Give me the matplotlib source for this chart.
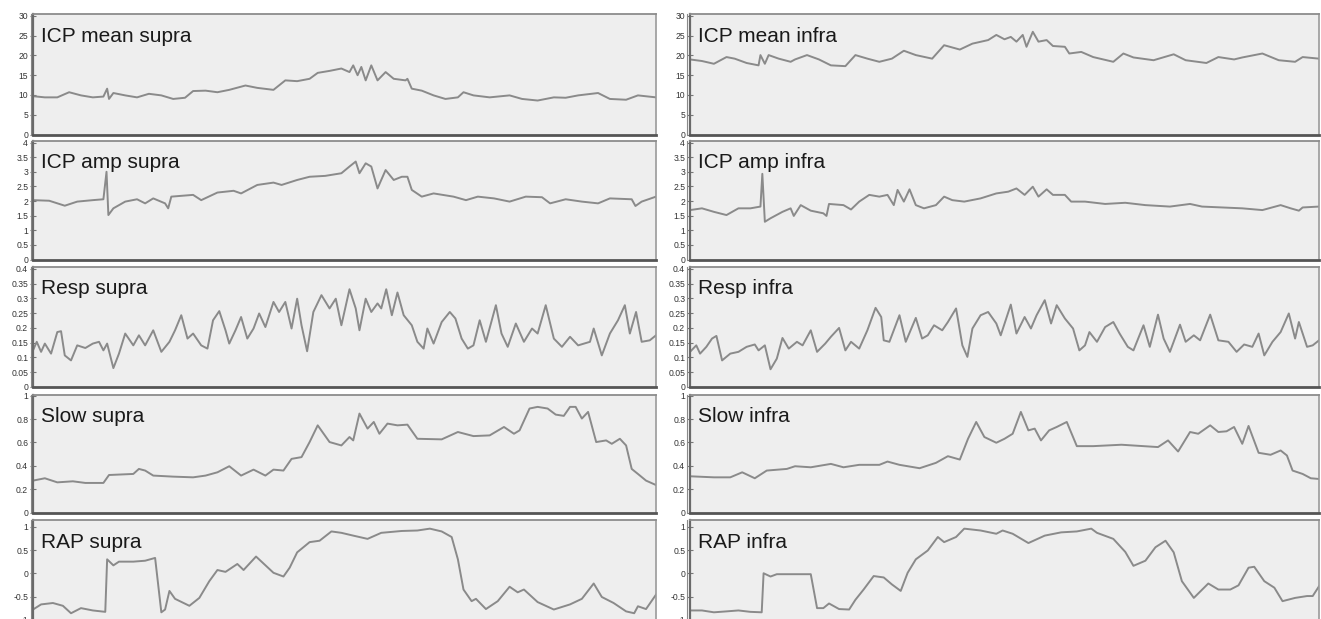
import numpy as np
import matplotlib
matplotlib.use('Agg')
import matplotlib.pyplot as plt
from matplotlib.ticker import FuncFormatter

plt.rcParams['font.family'] = ['Liberation Sans', 'DejaVu Sans']

# time axis is % of the recording (no units shown on the chart)

# ---- supra (left column) ----
t_mean_supra = [0, 1.9, 3.9, 5.8, 7.7, 9.6, 11.3, 11.9, 12.2, 12.9, 14.8, 16.7, 18.6, 20.6, 22.5, 24.4, 25.7,
                27.7, 29.6, 31.5, 34.1, 36.0, 38.6, 40.5, 42.4, 44.4, 45.7, 47.6, 49.5, 50.8, 51.4, 52.1, 52.7,
                53.4, 54.3, 55.3, 56.6, 57.9, 59.8, 60.1, 60.8, 62.4, 64.3, 66.2, 68.2, 69.1, 70.7, 73.3, 76.5,
                78.5, 81.0, 83.6, 85.5, 87.5, 90.7, 92.6, 95.2, 97.1, 100]
icp_mean_supra = [9.7, 9.4, 9.4, 10.7, 9.9, 9.4, 9.6, 11.6, 9.0, 10.5, 9.9, 9.4, 10.3, 9.9, 9.0, 9.3, 11.0,
                  11.1, 10.7, 11.3, 12.4, 11.8, 11.3, 13.7, 13.5, 14.1, 15.6, 16.1, 16.7, 15.8, 17.5, 15.0, 17.1,
                  13.7, 17.5, 13.7, 15.8, 14.1, 13.7, 14.1, 11.6, 11.1, 9.9, 9.0, 9.4, 10.7, 9.9, 9.4, 9.9,
                  9.0, 8.6, 9.4, 9.3, 9.9, 10.5, 9.0, 8.8, 9.9, 9.4]

t_amp_supra = [0, 2.6, 5.1, 7.1, 9.6, 11.3, 11.8, 12.1, 12.9, 14.8, 16.7, 18.0, 19.3, 21.2, 21.7, 22.2, 25.7,
               27.0, 29.6, 32.2, 33.4, 36.0, 38.6, 39.9, 42.4, 44.4, 46.9, 49.5, 50.8, 51.8, 52.4, 53.4, 54.3,
               55.3, 56.6, 57.9, 59.2, 60.1, 60.8, 62.4, 64.3, 67.5, 69.5, 71.4, 74.0, 76.5, 79.1, 81.7, 83.0,
               85.5, 88.1, 90.7, 92.6, 96.1, 96.7, 97.7, 100]
icp_amp_supra = [2.03, 2.01, 1.84, 1.98, 2.03, 2.06, 3.0, 1.52, 1.75, 1.98, 2.06, 1.92, 2.09, 1.92, 1.75, 2.15, 2.21,
                 2.03, 2.29, 2.35, 2.26, 2.55, 2.63, 2.55, 2.72, 2.83, 2.86, 2.95, 3.18, 3.35, 2.95, 3.29, 3.18,
                 2.43, 3.06, 2.72, 2.83, 2.83, 2.38, 2.15, 2.26, 2.15, 2.03, 2.15, 2.09, 1.98, 2.15, 2.13, 1.92,
                 2.06, 1.98, 1.92, 2.09, 2.06, 1.83, 1.98, 2.15]

t_resp_supra = [0, 0.6, 1.3, 1.9, 2.9, 3.9, 4.5, 5.1, 6.1, 7.1, 8.4, 9.6, 10.6, 11.3, 11.9, 12.9, 13.8, 14.8,
                16.1, 17.0, 18.0, 19.3, 20.6, 21.9, 22.8, 23.8, 24.8, 25.7, 27.0, 28.0, 28.9, 29.9, 30.9, 31.5,
                32.5, 33.4, 34.4, 35.4, 36.3, 37.3, 38.6, 39.5, 40.5, 41.5, 42.4, 43.1, 44.0, 45.0, 46.3, 47.6,
                48.6, 49.5, 50.8, 51.8, 52.4, 53.4, 54.3, 55.3, 55.9, 56.7, 57.6, 58.5, 59.5, 60.8, 61.7, 62.7,
                63.3, 64.3, 65.6, 66.9, 67.8, 68.8, 69.8, 70.7, 71.7, 72.7, 74.3, 75.2, 76.2, 77.5, 78.8, 80.1,
                81.0, 82.3, 83.6, 84.9, 86.2, 87.5, 89.4, 90.0, 91.3, 92.6, 93.9, 95.0, 95.8, 96.8, 97.7, 99.0, 100]
resp_supra = [0.124, 0.153, 0.119, 0.147, 0.113, 0.186, 0.189, 0.107, 0.090, 0.141, 0.132, 0.147, 0.153, 0.124,
              0.147, 0.064, 0.113, 0.181, 0.141, 0.175, 0.141, 0.192, 0.119, 0.153, 0.192, 0.243, 0.164, 0.181,
              0.141, 0.130, 0.226, 0.257, 0.192, 0.147, 0.192, 0.237, 0.164, 0.198, 0.249, 0.203, 0.288, 0.254,
              0.288, 0.198, 0.299, 0.209, 0.121, 0.254, 0.311, 0.266, 0.299, 0.209, 0.331, 0.266, 0.192, 0.299,
              0.254, 0.283, 0.266, 0.331, 0.243, 0.320, 0.243, 0.209, 0.153, 0.130, 0.198, 0.147, 0.220, 0.254,
              0.232, 0.164, 0.130, 0.141, 0.226, 0.153, 0.277, 0.181, 0.136, 0.215, 0.153, 0.198, 0.181, 0.277,
              0.164, 0.136, 0.170, 0.141, 0.153, 0.198, 0.107, 0.181, 0.226, 0.277, 0.181, 0.254, 0.153, 0.158, 0.175]

t_slow_supra = [0, 1.9, 3.9, 6.4, 8.4, 11.3, 12.2, 16.1, 17.0, 18.0, 19.3, 22.5, 25.7, 27.7, 29.6, 31.5, 33.4,
                35.4, 37.3, 38.6, 40.2, 41.5, 43.1, 44.4, 45.7, 47.6, 49.5, 50.8, 51.4, 52.4, 53.7, 54.7, 55.6,
                56.9, 58.5, 60.1, 61.7, 65.6, 68.2, 70.7, 73.3, 75.6, 77.2, 78.1, 79.7, 81.0, 82.6, 83.9, 85.2,
                86.2, 87.1, 88.1, 89.1, 90.4, 92.0, 92.9, 94.2, 95.2, 96.1, 97.1, 98.4, 100]
slow_supra = [0.273, 0.293, 0.258, 0.267, 0.253, 0.253, 0.321, 0.330, 0.373, 0.359, 0.316, 0.307, 0.301, 0.316,
              0.344, 0.396, 0.316, 0.367, 0.316, 0.367, 0.359, 0.459, 0.474, 0.603, 0.746, 0.603, 0.574, 0.646,
              0.617, 0.847, 0.718, 0.775, 0.674, 0.761, 0.746, 0.752, 0.631, 0.626, 0.689, 0.654, 0.660, 0.732,
              0.674, 0.703, 0.890, 0.904, 0.890, 0.838, 0.827, 0.904, 0.904, 0.804, 0.861, 0.603, 0.617, 0.588,
              0.631, 0.574, 0.373, 0.330, 0.273, 0.235]

t_rap_supra = [0, 1.3, 3.2, 4.8, 6.1, 7.7, 9.6, 11.6, 11.9, 12.9, 13.8, 16.1, 18.0, 19.6, 20.6, 21.2, 21.9, 22.8,
               25.1, 26.7, 28.3, 29.6, 30.9, 32.8, 33.8, 35.8, 38.6, 40.2, 41.2, 42.4, 44.4, 46.0, 47.9, 49.5,
               51.4, 53.7, 55.9, 59.2, 61.7, 63.7, 65.6, 67.2, 68.2, 69.1, 70.4, 71.1, 72.7, 74.6, 76.5, 77.8,
               78.8, 81.0, 83.6, 86.2, 88.1, 90.0, 91.3, 93.2, 95.2, 96.5, 97.1, 98.4, 100]
rap_supra = [-0.78, -0.67, -0.64, -0.70, -0.86, -0.75, -0.80, -0.83, 0.30, 0.17, 0.25, 0.25, 0.27, 0.33, -0.84,
             -0.78, -0.38, -0.55, -0.70, -0.53, -0.17, 0.07, 0.03, 0.20, 0.07, 0.36, 0.01, -0.07, 0.12, 0.45,
             0.67, 0.70, 0.90, 0.87, 0.81, 0.74, 0.87, 0.91, 0.92, 0.96, 0.90, 0.78, 0.30, -0.35, -0.60, -0.55,
             -0.77, -0.60, -0.29, -0.41, -0.35, -0.62, -0.78, -0.67, -0.55, -0.22, -0.51, -0.64, -0.82, -0.86,
             -0.71, -0.77, -0.46]

# ---- infra (right column) ----
t_mean_infra = [0, 1.9, 3.8, 5.8, 7.1, 9.0, 10.9, 11.2, 11.9, 12.5, 14.1, 16.0, 16.7, 18.6, 20.5, 22.4, 24.7,
                26.3, 28.2, 30.1, 32.1, 34.0, 35.9, 38.5, 40.4, 42.9, 44.9, 47.4, 48.7, 50.0, 51.0, 51.9, 52.9,
                53.5, 54.5, 55.4, 56.7, 57.7, 59.6, 60.3, 62.2, 64.1, 67.3, 68.9, 70.5, 73.7, 76.9, 78.8, 82.1,
                84.0, 86.5, 87.8, 91.0, 93.6, 96.2, 97.4, 100]
icp_mean_infra = [19.0, 18.6, 17.9, 19.6, 19.2, 18.1, 17.5, 20.1, 17.9, 20.1, 19.2, 18.4, 19.0, 20.1, 19.0, 17.5,
                  17.3, 20.1, 19.2, 18.4, 19.2, 21.2, 20.1, 19.2, 22.6, 21.5, 23.0, 23.9, 25.2, 24.1, 24.7, 23.5,
                  25.2, 22.2, 26.0, 23.5, 23.9, 22.4, 22.2, 20.5, 20.9, 19.6, 18.4, 20.5, 19.5, 18.8, 20.3, 18.8,
                  18.1, 19.6, 19.0, 19.5, 20.5, 18.8, 18.4, 19.6, 19.2]

t_amp_infra = [0, 1.9, 3.8, 5.8, 7.7, 9.6, 11.2, 11.5, 11.9, 12.8, 14.7, 16.0, 16.5, 17.6, 19.2, 21.2, 21.7,
               22.1, 24.4, 25.6, 26.9, 28.5, 30.1, 31.4, 32.4, 33.0, 34.0, 34.9, 35.9, 37.2, 39.1, 40.4, 41.7,
               43.6, 46.2, 48.7, 50.6, 51.9, 53.2, 54.5, 55.4, 56.7, 57.7, 59.6, 60.6, 62.8, 66.0, 69.2, 72.4,
               76.3, 79.5, 81.4, 84.6, 87.8, 91.0, 93.9, 95.5, 96.8, 97.4, 100]
icp_amp_infra = [1.69, 1.75, 1.63, 1.52, 1.75, 1.75, 1.81, 2.93, 1.29, 1.41, 1.63, 1.75, 1.49, 1.86, 1.67, 1.58,
                 1.49, 1.90, 1.86, 1.71, 1.98, 2.21, 2.15, 2.21, 1.86, 2.38, 1.98, 2.40, 1.86, 1.75, 1.86, 2.15,
                 2.03, 1.98, 2.09, 2.26, 2.32, 2.43, 2.21, 2.49, 2.15, 2.40, 2.21, 2.21, 1.98, 1.98, 1.90, 1.94,
                 1.86, 1.81, 1.90, 1.81, 1.78, 1.75, 1.69, 1.86, 1.75, 1.67, 1.78, 1.81]

t_resp_infra = [0, 1.0, 1.6, 2.6, 3.5, 4.2, 5.1, 6.4, 7.7, 9.0, 10.3, 10.9, 11.9, 12.8, 13.8, 14.7, 15.7, 17.0,
                17.9, 19.2, 20.2, 21.5, 22.4, 23.7, 24.7, 25.6, 26.9, 28.2, 29.5, 30.4, 30.8, 31.7, 33.3, 34.3,
                35.9, 36.9, 37.8, 38.8, 40.1, 41.0, 42.3, 43.3, 44.1, 44.9, 46.2, 47.4, 48.7, 49.4, 51.0, 51.9,
                53.2, 54.2, 55.1, 56.4, 57.4, 58.3, 59.6, 60.9, 61.9, 62.8, 63.5, 64.7, 66.0, 67.3, 68.3, 69.6,
                70.5, 72.1, 73.1, 74.4, 75.3, 76.3, 77.9, 78.8, 80.1, 81.1, 82.7, 84.0, 85.6, 86.9, 88.1, 89.4,
                90.4, 91.3, 92.6, 93.9, 95.2, 96.2, 96.8, 98.1, 99.0, 100]
resp_infra = [0.119, 0.141, 0.113, 0.136, 0.164, 0.173, 0.090, 0.113, 0.119, 0.136, 0.144, 0.124, 0.141, 0.060,
              0.096, 0.166, 0.130, 0.153, 0.141, 0.192, 0.119, 0.147, 0.170, 0.200, 0.124, 0.153, 0.130, 0.192,
              0.268, 0.237, 0.158, 0.153, 0.243, 0.153, 0.234, 0.164, 0.175, 0.209, 0.192, 0.220, 0.266, 0.141,
              0.102, 0.198, 0.243, 0.254, 0.215, 0.175, 0.279, 0.181, 0.237, 0.198, 0.243, 0.294, 0.215, 0.277,
              0.232, 0.198, 0.124, 0.141, 0.186, 0.153, 0.203, 0.220, 0.181, 0.136, 0.124, 0.209, 0.136, 0.245,
              0.164, 0.119, 0.211, 0.153, 0.175, 0.158, 0.245, 0.158, 0.153, 0.119, 0.144, 0.136, 0.181, 0.107,
              0.153, 0.186, 0.249, 0.164, 0.220, 0.136, 0.141, 0.158]

t_slow_infra = [0, 3.8, 6.4, 8.3, 10.3, 12.2, 15.4, 16.7, 19.2, 22.4, 24.4, 26.9, 30.1, 31.4, 33.3, 36.5, 39.1,
                41.0, 42.9, 44.2, 45.5, 46.8, 48.7, 50.0, 51.3, 52.6, 53.8, 54.8, 55.8, 57.1, 58.3, 59.9, 61.5,
                64.1, 68.6, 74.4, 76.0, 77.6, 79.5, 80.8, 82.7, 84.0, 85.3, 86.5, 87.8, 88.8, 90.4, 92.3, 93.9,
                94.9, 95.8, 97.4, 98.7, 100]
slow_infra = [0.310, 0.301, 0.301, 0.344, 0.293, 0.359, 0.373, 0.396, 0.387, 0.416, 0.387, 0.408, 0.408, 0.436,
              0.408, 0.379, 0.425, 0.482, 0.453, 0.631, 0.775, 0.646, 0.597, 0.631, 0.674, 0.861, 0.703, 0.718,
              0.617, 0.703, 0.732, 0.775, 0.568, 0.568, 0.580, 0.560, 0.617, 0.522, 0.689, 0.674, 0.746, 0.689,
              0.695, 0.732, 0.588, 0.741, 0.511, 0.494, 0.531, 0.488, 0.359, 0.330, 0.293, 0.287]

t_rap_infra = [0, 1.9, 3.8, 5.8, 7.7, 9.6, 11.4, 11.7, 12.8, 13.8, 16.0, 19.2, 20.2, 21.2, 22.1, 23.7, 25.3,
               26.3, 27.6, 29.2, 30.8, 32.1, 33.5, 34.6, 35.9, 37.8, 39.4, 40.4, 42.3, 43.6, 46.2, 48.7, 49.7,
               51.3, 53.8, 56.4, 59.0, 61.5, 63.8, 64.7, 67.3, 69.2, 70.5, 72.4, 74.0, 75.6, 76.9, 78.2, 80.1,
               82.4, 84.0, 85.9, 87.2, 88.8, 89.7, 91.3, 92.9, 94.2, 96.2, 98.1, 99.0, 100]
rap_infra = [-0.80, -0.80, -0.84, -0.82, -0.80, -0.83, -0.84, 0.00, -0.07, -0.02, -0.02, -0.02, -0.75, -0.75,
             -0.65, -0.77, -0.78, -0.57, -0.35, -0.06, -0.09, -0.24, -0.38, 0.01, 0.30, 0.49, 0.78, 0.67, 0.78,
             0.96, 0.92, 0.85, 0.92, 0.85, 0.65, 0.81, 0.88, 0.90, 0.96, 0.87, 0.74, 0.46, 0.16, 0.27, 0.56,
             0.70, 0.45, -0.17, -0.53, -0.22, -0.35, -0.35, -0.26, 0.12, 0.14, -0.17, -0.31, -0.60, -0.53,
             -0.49, -0.49, -0.28]

labels_supra = ['ICP mean supra', 'ICP amp supra', 'Resp supra', 'Slow supra', 'RAP supra']
labels_infra = ['ICP mean infra', 'ICP amp infra', 'Resp infra', 'Slow infra', 'RAP infra']
y_limits = [(0, 30.5), (0, 4.07), (0, 0.408), (0, 1.01), (-1.07, 1.146)]
y_ticks = [np.arange(0, 31, 5), np.arange(0, 4.01, 0.5), np.arange(0, 0.401, 0.05),
           np.arange(0, 1.01, 0.2), np.arange(-1, 1.01, 0.5)]

supra = [(t_mean_supra, icp_mean_supra), (t_amp_supra, icp_amp_supra), (t_resp_supra, resp_supra),
         (t_slow_supra, slow_supra), (t_rap_supra, rap_supra)]
infra = [(t_mean_infra, icp_mean_infra), (t_amp_infra, icp_amp_infra), (t_resp_infra, resp_infra),
         (t_slow_infra, slow_infra), (t_rap_infra, rap_infra)]

W, H = 1321, 619
fig = plt.figure(figsize=(W / 100, H / 100), dpi=100)

# pixel rows (top, bottom) of each panel
rows = [(14, 134.5), (140.5, 259.5), (266.5, 387), (394.5, 512.5), (520, 623)]
cols = [(33, 656), (690, 1319)]

fmt = FuncFormatter(lambda v, p: '%g' % round(v, 3))

for c, (col_data, col_labels) in enumerate([(supra, labels_supra), (infra, labels_infra)]):
    x0, x1 = cols[c]
    for r in range(5):
        top, bot = rows[r]
        ax = fig.add_axes([x0 / W, 1 - bot / H, (x1 - x0) / W, (bot - top) / H])
        ax.set_facecolor('#eeeeee')
        t, v = col_data[r]
        ax.plot(t, v, color='#8a8a8a', lw=1.4)
        ax.set_xlim(0, 100)
        ax.set_ylim(*y_limits[r])
        ax.set_yticks(y_ticks[r])
        ax.yaxis.set_major_formatter(fmt)
        ax.set_xticks([])
        ax.tick_params(axis='y', direction='inout', length=4, width=0.8, color='#777',
                       labelsize=6.2, labelcolor='#333', pad=1.5)
        ax.spines['left'].set_color('#6a6a6a')
        ax.spines['left'].set_linewidth(1.6)
        ax.spines['top'].set_color('#8c8c8c')
        ax.spines['top'].set_linewidth(1.3)
        ax.spines['right'].set_color('#9a9a9a')
        ax.spines['right'].set_linewidth(1.2)
        ax.spines['bottom'].set_color('#555555')
        ax.spines['bottom'].set_linewidth(2.0)
        # second thin axis line left of the frame
        ax.plot([-0.004, -0.004], [0, 1], transform=ax.transAxes, color='#8a8a8a',
                lw=0.8, clip_on=False)
        ax.annotate(col_labels[r], xy=(0, 1), xycoords='axes fraction',
                    xytext=(8, -22), textcoords='offset pixels',
                    ha='left', va='center', fontsize=15, color='#1a1a1a')

fig.savefig('out.png', dpi=100)
